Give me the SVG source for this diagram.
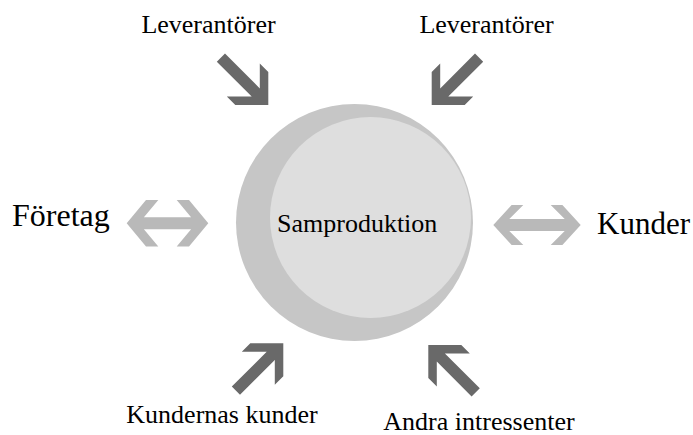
<svg xmlns="http://www.w3.org/2000/svg" xmlns:xlink="http://www.w3.org/1999/xlink" width="693" height="435" viewBox="0 0 693 435">
  <style>
    .lbl { font-family: "Liberation Serif", "Times New Roman", serif; fill: #000; }
    .dark { fill: #696969; }
    .light { fill: #b9b9b9; }
  </style>
  <defs>
    <!-- diagonal arrow pointing down-right, outer head corner at (0,0) -->
    <polygon id="diag" points="0,0 0,-33 -8.5,-41.5 -8.5,-16.6 -43.3,-51.5 -51.5,-43.3 -16.6,-8.5 -41.5,-8.5 -33,0"/>
  </defs>
  <rect width="693" height="435" fill="#ffffff"/>

  <g id="samproduktion">
    <circle cx="354.5" cy="222.5" r="118.5" fill="#c6c6c6"/>
    <circle cx="370.5" cy="217.5" r="100.5" fill="#dedede"/>
    <text class="lbl" x="277" y="232" font-size="26">Samproduktion</text>
  </g>

  <g id="leverantorer-left">
    <text class="lbl" x="208.5" y="33" font-size="26" text-anchor="middle">Leverantörer</text>
  </g>
  <g id="leverantorer-right">
    <text class="lbl" x="486.5" y="33" font-size="26" text-anchor="middle">Leverantörer</text>
  </g>
  <g id="foretag">
    <text class="lbl" x="12" y="226" font-size="32">Företag</text>
  </g>
  <g id="kunder">
    <text class="lbl" x="597" y="234" font-size="31">Kunder</text>
  </g>
  <g id="kundernas-kunder">
    <text class="lbl" x="222" y="423" font-size="26" text-anchor="middle">Kundernas kunder</text>
  </g>
  <g id="andra-intressenter">
    <text class="lbl" x="479" y="430" font-size="26" text-anchor="middle">Andra intressenter</text>
  </g>

  <g id="connectors">
    <use xlink:href="#diag" class="dark" transform="translate(268.3,105)"/>
    <use xlink:href="#diag" class="dark" transform="translate(431.7,105) scale(-1,1)"/>
    <use xlink:href="#diag" class="dark" transform="translate(283.3,343.3) scale(1,-1)"/>
    <use xlink:href="#diag" class="dark" transform="translate(428.3,345) scale(-1,-1)"/>
    <polygon class="light" transform="translate(167.5,223.3)" points="-40.8,0 -21.5,-23.3 -9.2,-23.3 -23.6,-6 23.6,-6 9.2,-23.3 21.5,-23.3 40.8,0 21.5,23.3 9.2,23.3 23.6,6 -23.6,6 -9.2,23.3 -21.5,23.3"/>
    <polygon class="light" transform="translate(537,225)" points="-43.7,0 -25.4,-20 -13.7,-20 -27.7,-6 27.7,-6 13.7,-20 25.4,-20 43.7,0 25.4,20 13.7,20 27.7,6 -27.7,6 -13.7,20 -25.4,20"/>
  </g>
</svg>
